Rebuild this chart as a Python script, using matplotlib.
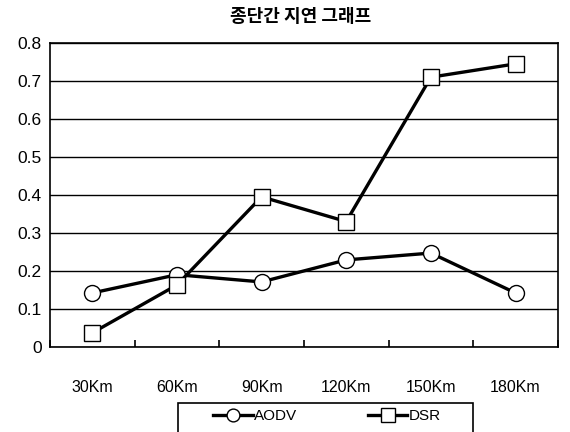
import matplotlib
matplotlib.use("Agg")
import matplotlib.pyplot as plt
from matplotlib.patches import Rectangle
import numpy as np

plt.rcParams['font.family'] = ['Liberation Sans', 'Noto Sans CJK KR', 'DejaVu Sans']

# 데이터
categories = ['30Km', '60Km', '90Km', '120Km', '150Km', '180Km']
aodv = [0.142, 0.19, 0.171, 0.229, 0.247, 0.142]
dsr = [0.037, 0.163, 0.395, 0.33, 0.71, 0.745]
y_ticks = [0, 0.1, 0.2, 0.3, 0.4, 0.5, 0.6, 0.7, 0.8]
title = '종단간 지연 그래프'

fig = plt.figure(figsize=(5.7, 4.32), dpi=100)
ax = fig.add_axes([0.0877, 0.197, 0.891, 0.7035])

x = np.arange(len(categories))
ax.plot(x, aodv, color='black', lw=2.4, marker='o', ms=11.5,
        mfc='white', mec='black', mew=1.0, label='AODV', zorder=3)
ax.plot(x, dsr, color='black', lw=2.4, marker='s', ms=12,
        mfc='white', mec='black', mew=1.0, label='DSR', zorder=3)

ax.set_xlim(-0.5, len(categories) - 0.5)
ax.set_ylim(0, 0.8)
ax.set_yticks(y_ticks)
ax.set_yticklabels(['0' if v == 0 else f'{v:.1f}' for v in y_ticks], fontsize=12.5)
ax.set_xticks(x)
ax.set_xticklabels(categories, fontsize=11.5)
ax.tick_params(axis='x', length=0, pad=24)
ax.tick_params(axis='y', length=0, pad=6)
ax.set_xticks(np.arange(-0.5, len(categories), 1.0), minor=True)
ax.tick_params(axis='x', which='minor', direction='in', length=5, width=1.2)

ax.yaxis.grid(True, color='black', lw=1.0)
ax.set_axisbelow(True)
for s in ax.spines.values():
    s.set_linewidth(1.2)

fig.text(0.528, 0.961, title, ha='center', va='center', fontsize=13,
         family=['Noto Sans CJK KR', 'DejaVu Sans'], fontweight='bold')

# 범례 (테두리는 따로 그림)
leg = ax.legend(loc='center left', bbox_to_anchor=(213 / 570, 1 - 416 / 432),
                bbox_transform=fig.transFigure, ncol=2, frameon=False,
                prop={'family': ['Liberation Sans Narrow', 'Liberation Sans'], 'size': 11},
                columnspacing=4.6, handlelength=2.6, handletextpad=0.1,
                borderpad=0, borderaxespad=0, markerscale=0.8)
for t in leg.get_texts():
    t.set_color('black')
fig.patches.append(Rectangle((178 / 570, -0.01), (473 - 178) / 570, 0.01 + 1 - 403 / 432,
                             transform=fig.transFigure, fill=False,
                             edgecolor='black', lw=1.2))

fig.savefig('out.png', dpi=100)
